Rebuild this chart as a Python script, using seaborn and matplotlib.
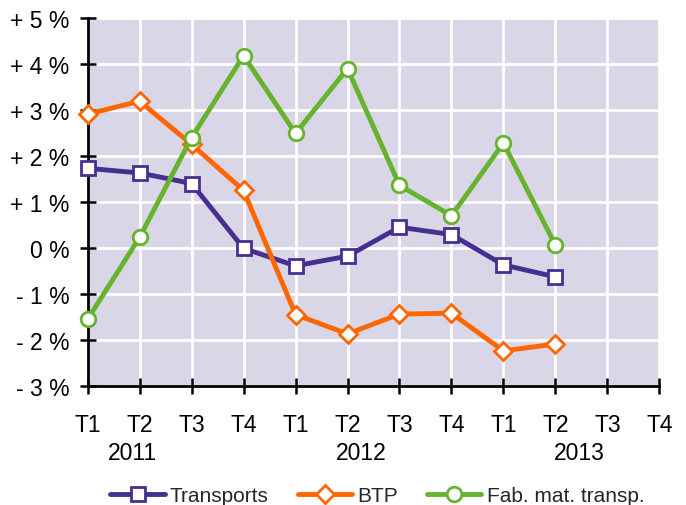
import numpy as np
import pandas as pd
import seaborn as sns
import matplotlib.pyplot as plt
import matplotlib.transforms as mtransforms

# quarterly values, % change
quarters = ["T1", "T2", "T3", "T4"] * 3
years = ["2011", "2012", "2013"]
transports = [1.74, 1.64, 1.41, 0.0, -0.38, -0.17, 0.46, 0.30, -0.36, -0.62]
btp = [2.92, 3.20, 2.26, 1.26, -1.44, -1.86, -1.43, -1.41, -2.23, -2.08]
fab_mat = [-1.54, 0.24, 2.41, 4.19, 2.50, 3.91, 1.37, 0.71, 2.29, 0.07]
y_ticks = [-3, -2, -1, 0, 1, 2, 3, 4, 5]
y_labels = ["- 3 %", "- 2 %", "- 1 %", "0 %", "+ 1 %", "+ 2 %", "+ 3 %", "+ 4 %", "+ 5 %"]

df = pd.DataFrame({"t": np.arange(len(transports)),
                   "Transports": transports, "BTP": btp,
                   "Fab. mat. transp.": fab_mat})

sns.set_style("whitegrid", {"axes.facecolor": "#d9d6e8", "grid.color": "white"})
plt.rcParams["font.family"] = ["Liberation Sans", "DejaVu Sans"]

fig = plt.figure(figsize=(6.86, 5.06), dpi=100)
ax = fig.add_axes([0.1278, 0.2346, 0.8333, 0.727])

series = [("Transports", "#472f92", "s", 10),
          ("BTP", "#ff6600", "D", 9),
          ("Fab. mat. transp.", "#66b32e", "o", 10.5)]
for name, col, mk, ms in series:
    sns.lineplot(data=df, x="t", y=name, ax=ax, color=col, marker=mk,
                 markersize=ms, markerfacecolor="white", markeredgecolor=col,
                 markeredgewidth=2, linewidth=3.5, label=name,
                 clip_on=False, zorder=5)

ax.set_xlim(0, 11)
ax.set_ylim(-3, 5)
ax.set_xticks(range(12))
ax.set_xticklabels(quarters)
ax.set_yticks(y_ticks)
ax.set_yticklabels(y_labels)
ax.set_xlabel("")
ax.set_ylabel("")
ax.grid(True, color="white", linewidth=2)

for s in ["top", "right"]:
    ax.spines[s].set_visible(False)
for s in ["left", "bottom"]:
    ax.spines[s].set_color("black")
    ax.spines[s].set_linewidth(2)
    ax.spines[s].set_zorder(4)
ax.tick_params(axis="both", direction="inout", length=12, width=1.8,
               color="black", labelsize=16.5, labelcolor="black",
               bottom=True, left=True)
ax.tick_params(axis="x", pad=13)
ax.tick_params(axis="y", pad=7)

trans = mtransforms.blended_transform_factory(ax.transData, ax.transAxes)
for xpos, yr in zip([0.87, 5.26, 9.47], years):
    ax.text(xpos, -0.18, yr, transform=trans, ha="center", va="center",
            fontsize=16.5, color="black")

ax.get_legend().remove()
handles, labels = ax.get_legend_handles_labels()
fig.legend(handles, labels, loc="center", bbox_to_anchor=(0.55, 0.019),
           ncol=3, frameon=False, fontsize=15, handlelength=2.6,
           handletextpad=0.25, columnspacing=1.4)

plt.savefig("out.png", dpi=100)
